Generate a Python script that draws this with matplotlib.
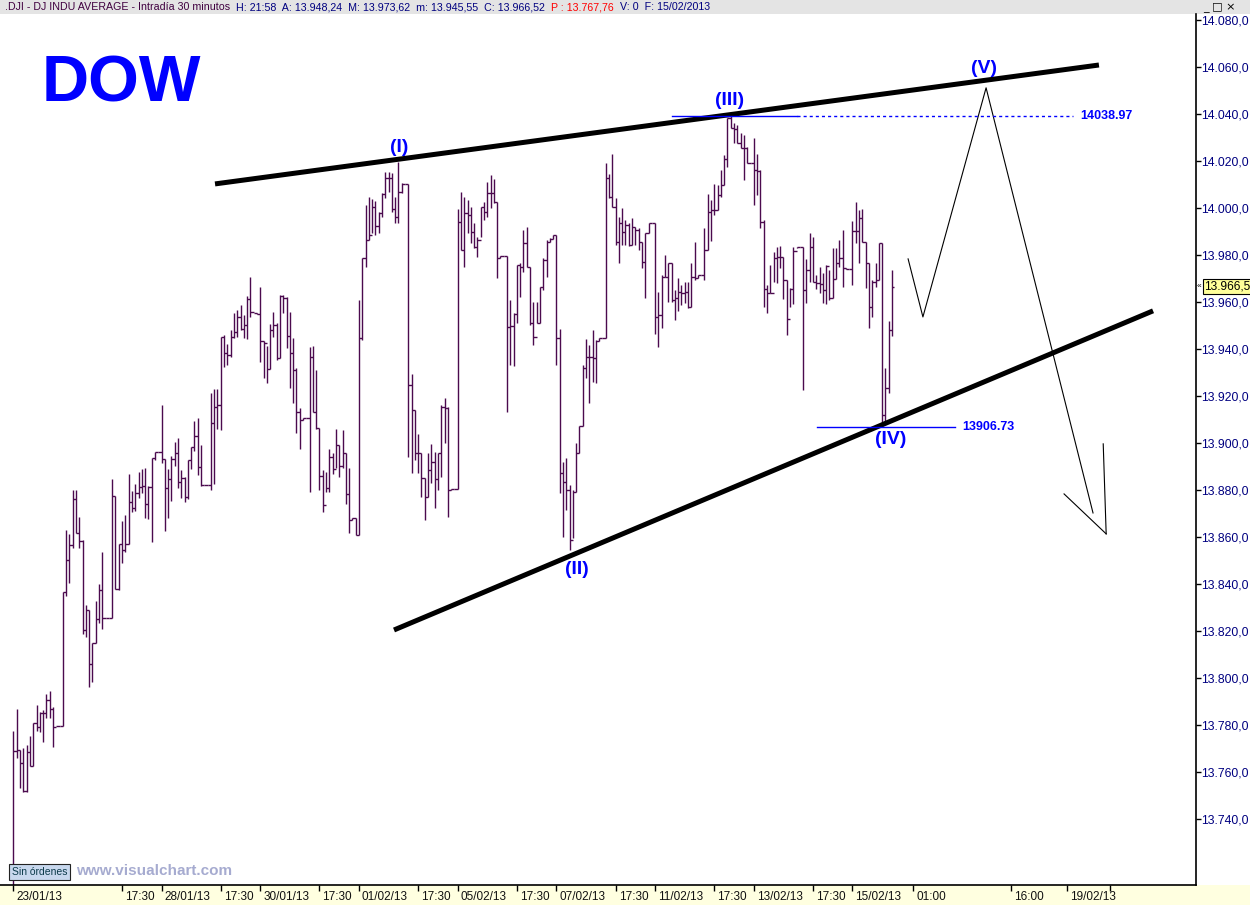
import numpy as np
import matplotlib
matplotlib.use('Agg')
from matplotlib import pyplot as plt
from matplotlib.patches import Rectangle
from matplotlib.transforms import blended_transform_factory, ScaledTranslation

plt.rcParams['font.family'] = ['Liberation Sans', 'DejaVu Sans']

# 30 minute bars of the DJI, 23/01/13 .. 15/02/13 (15 bars per session, last one 13)
highs = [
    13777.4, 13786.8, 13769.4, 13770.0, 13771.5, 13775.3, 13780.9, 13788.5, 13785.5, 13786.4, 13793.2, 13794.5, 13787.7, 13779.6, 13779.6,
    13836.6, 13863.0, 13861.3, 13880.0, 13880.0, 13868.5, 13858.7, 13831.0, 13829.0, 13815.0, 13832.8, 13840.0, 13853.6, 13825.5, 13825.5,
    13884.7, 13877.5, 13857.0, 13866.8, 13869.4, 13886.8, 13879.6, 13882.6, 13887.7, 13889.0, 13889.4, 13881.7, 13893.6, 13896.2, 13896.2,
    13916.2, 13893.2, 13889.0, 13894.5, 13900.4, 13902.1, 13888.5, 13885.5, 13892.8, 13898.3, 13909.4, 13910.6, 13899.2, 13882.1, 13882.1,
    13921.3, 13923.0, 13923.0, 13945.1, 13946.0, 13942.1, 13948.1, 13955.3, 13956.6, 13958.7, 13954.5, 13962.6, 13970.6, 13955.3, 13955.3,
    13966.4, 13943.4, 13941.3, 13950.6, 13955.8, 13951.1, 13963.0, 13963.0, 13962.1, 13955.8, 13944.7, 13931.9, 13914.9, 13910.6, 13910.6,
    13940.9, 13941.3, 13931.1, 13906.4, 13888.5, 13887.7, 13897.5, 13895.8, 13906.0, 13899.2, 13905.5, 13895.8, 13889.4, 13868.1, 13868.1,
    13960.8, 13978.7, 14001.3, 14004.7, 14003.8, 14003.0, 13998.3, 14006.4, 14015.3, 14015.3, 14014.9, 14004.7, 14019.6, 14010.6, 14010.2,
    14010.2, 13929.4, 13914.0, 13903.8, 13895.8, 13885.1, 13895.8, 13899.6, 13896.2, 13895.8, 13916.2, 13919.2, 13915.3, 13880.4, 13880.4,
    13999.6, 14006.8, 14004.7, 14003.4, 14000.4, 13993.6, 13987.7, 14000.4, 14002.5, 14011.1, 14014.0, 14012.3, 14002.5, 13979.6, 13979.6,
    13979.6, 13960.8, 13955.3, 13975.7, 13976.6, 13990.6, 13991.9, 13974.9, 13960.0, 13960.0, 13966.4, 13978.7, 13986.4, 13987.2, 13988.5,
    13988.5, 13948.5, 13891.9, 13893.6, 13882.1, 13880.0, 13900.0, 13907.2, 13933.2, 13944.3, 13941.7, 13948.1, 13943.8, 13944.7, 13944.7,
    14019.1, 14014.5, 14023.0, 14004.2, 13996.2, 14000.0, 13994.9, 13993.6, 13995.7, 13991.9, 13991.5, 13985.5, 13989.4, 13993.6, 13993.6,
    13993.6, 13964.3, 13971.5, 13980.0, 13976.6, 13976.6, 13965.1, 13970.2, 13967.2, 13968.5, 13968.5, 13976.6, 13985.5, 13971.5, 13971.5,
    13991.5, 14006.0, 14003.4, 14010.2, 14009.8, 14016.2, 14022.5, 14038.3, 14038.97, 14036.2, 14035.3, 14031.9, 14031.1, 14026.0, 14019.1,
    14029.8, 14023.0, 14016.2, 13994.9, 13967.2, 13975.7, 13981.3, 13983.4, 13983.8, 13979.1, 13969.4, 13966.0, 13983.4, 13983.4, 13983.4,
    13983.4, 13978.3, 13989.4, 13987.7, 13971.5, 13974.9, 13972.3, 13975.7, 13973.6, 13983.0, 13983.0, 13986.4, 13990.6, 13974.5, 13974.0,
    13994.5, 14002.5, 13999.1, 13999.6, 13985.5, 13976.6, 13969.4, 13976.6, 13985.1, 13985.1, 13932.0, 13951.9, 13973.62,
]
lows = [
    13712.0, 13766.0, 13753.0, 13751.5, 13751.5, 13762.6, 13762.6, 13777.5, 13777.0, 13772.8, 13783.0, 13783.0, 13770.7, 13779.6, 13779.6,
    13779.6, 13835.0, 13840.5, 13855.3, 13861.7, 13855.3, 13818.7, 13817.5, 13796.0, 13798.3, 13815.0, 13823.4, 13821.0, 13825.5, 13825.5,
    13825.5, 13837.9, 13837.5, 13849.0, 13853.6, 13857.0, 13870.6, 13871.0, 13876.6, 13878.7, 13868.1, 13867.7, 13857.9, 13892.8, 13896.2,
    13891.5, 13862.6, 13868.1, 13875.3, 13890.2, 13880.9, 13876.6, 13874.9, 13876.2, 13889.0, 13896.6, 13886.4, 13881.7, 13882.1, 13882.1,
    13880.0, 13882.6, 13906.0, 13905.5, 13932.3, 13933.2, 13936.6, 13944.7, 13945.1, 13948.1, 13944.7, 13944.3, 13953.6, 13955.3, 13954.9,
    13934.5, 13927.7, 13925.5, 13931.5, 13945.1, 13935.3, 13936.2, 13955.3, 13940.4, 13923.4, 13917.0, 13904.3, 13897.5, 13909.8, 13910.6,
    13879.2, 13913.2, 13906.0, 13880.0, 13870.6, 13879.2, 13879.2, 13886.8, 13889.4, 13885.5, 13889.4, 13874.0, 13861.7, 13867.2, 13860.9,
    13860.9, 13943.8, 13974.9, 13986.4, 13989.4, 13988.5, 13989.4, 13996.2, 14004.2, 14006.8, 13998.3, 13993.6, 13993.6, 14006.4, 14010.2,
    13894.0, 13887.2, 13892.8, 13887.2, 13877.0, 13867.2, 13877.0, 13883.0, 13872.3, 13880.0, 13885.5, 13900.0, 13868.5, 13880.0, 13880.4,
    13880.4, 13982.1, 13974.9, 13989.4, 13985.1, 13983.0, 13979.1, 13987.7, 13994.9, 13996.2, 14000.0, 14002.1, 13970.2, 13978.7, 13979.6,
    13913.2, 13933.2, 13932.8, 13951.1, 13962.1, 13972.8, 13974.9, 13950.2, 13941.7, 13951.1, 13951.1, 13965.1, 13970.6, 13985.5, 13986.8,
    13933.2, 13878.7, 13860.0, 13871.5, 13854.5, 13859.6, 13879.2, 13895.8, 13907.2, 13927.7, 13917.0, 13926.0, 13925.5, 13943.4, 13944.7,
    13944.7, 14004.2, 14000.4, 13984.3, 13976.6, 13984.3, 13984.3, 13983.8, 13984.3, 13984.3, 13982.1, 13974.5, 13961.7, 13989.4, 13993.6,
    13946.4, 13940.9, 13949.0, 13970.6, 13960.0, 13960.0, 13952.3, 13956.2, 13958.7, 13959.6, 13957.4, 13957.9, 13969.4, 13970.2, 13971.5,
    13969.4, 13982.1, 13986.0, 13997.0, 13999.1, 14004.7, 14009.8, 14017.4, 14034.0, 14027.7, 14027.7, 14025.5, 14011.9, 14019.1, 14019.1,
    14001.3, 14005.5, 13991.5, 13957.9, 13955.3, 13963.8, 13968.5, 13968.1, 13974.5, 13961.3, 13946.0, 13957.9, 13959.2, 13983.0, 13983.4,
    13922.6, 13959.6, 13968.5, 13968.5, 13965.5, 13963.8, 13959.6, 13959.2, 13960.8, 13961.7, 13969.8, 13974.9, 13966.4, 13974.0, 13974.0,
    13967.2, 13985.1, 13976.6, 13985.5, 13966.0, 13949.0, 13953.6, 13966.4, 13969.4, 13906.73, 13908.0, 13921.3, 13945.55,
]
closes = [
    13769.0, 13769.4, 13764.0, 13752.0, 13768.5, 13762.6, 13780.9, 13779.0, 13785.0, 13785.0, 13790.6, 13786.8, 13779.0, 13779.6, 13779.6,
    13836.6, 13850.0, 13856.6, 13876.0, 13861.7, 13858.3, 13820.4, 13829.0, 13806.0, 13815.0, 13825.0, 13837.5, 13825.5, 13825.5, 13825.5,
    13877.5, 13837.9, 13857.0, 13854.5, 13857.0, 13874.9, 13872.3, 13878.7, 13881.3, 13881.7, 13874.0, 13881.3, 13893.6, 13896.2, 13896.2,
    13893.2, 13880.9, 13884.7, 13893.2, 13895.8, 13883.4, 13885.1, 13877.0, 13892.8, 13898.3, 13903.0, 13889.8, 13882.1, 13882.1, 13882.1,
    13908.5, 13915.3, 13916.2, 13945.1, 13938.3, 13937.4, 13945.1, 13947.2, 13953.6, 13948.5, 13950.2, 13961.3, 13955.8, 13955.3, 13954.9,
    13943.4, 13942.6, 13931.5, 13948.1, 13950.2, 13936.2, 13962.6, 13961.7, 13945.5, 13938.3, 13931.1, 13913.2, 13909.8, 13910.6, 13910.6,
    13936.6, 13913.2, 13906.4, 13886.0, 13873.6, 13880.9, 13894.1, 13889.0, 13899.2, 13890.2, 13895.8, 13878.3, 13867.2, 13868.1, 13860.9,
    13944.7, 13978.7, 13986.4, 13988.5, 14000.4, 13992.3, 13997.9, 14006.0, 14012.8, 14012.8, 13999.6, 13996.2, 14006.8, 14010.2, 14010.2,
    13924.7, 13914.0, 13895.8, 13895.8, 13885.1, 13877.0, 13888.5, 13891.9, 13884.7, 13895.8, 13915.3, 13914.9, 13880.0, 13880.4, 13880.4,
    13994.0, 13982.1, 13997.9, 13997.0, 13989.8, 13983.4, 13986.4, 14000.4, 13998.3, 14006.4, 14006.4, 14002.5, 13978.7, 13979.6, 13979.6,
    13949.4, 13949.8, 13954.9, 13975.7, 13974.9, 13985.1, 13974.9, 13951.1, 13945.1, 13951.1, 13966.4, 13977.9, 13985.5, 13986.8, 13988.5,
    13944.7, 13887.2, 13883.4, 13880.0, 13858.7, 13879.2, 13895.8, 13907.2, 13931.9, 13936.6, 13936.6, 13936.2, 13943.4, 13944.7, 13944.7,
    14012.8, 14004.7, 14000.4, 13985.5, 13993.6, 13989.8, 13992.8, 13984.3, 13991.9, 13990.6, 13985.5, 13977.0, 13989.4, 13993.6, 13993.6,
    13953.6, 13954.5, 13970.6, 13970.6, 13976.6, 13960.8, 13961.7, 13964.3, 13963.8, 13964.3, 13957.9, 13970.6, 13970.2, 13971.5, 13971.5,
    13982.1, 13998.3, 13999.1, 13999.1, 14005.5, 14009.8, 14020.8, 14038.3, 14034.0, 14033.6, 14027.7, 14025.5, 14025.5, 14019.1, 14019.1,
    14016.2, 14015.7, 13994.0, 13965.5, 13963.8, 13963.8, 13978.7, 13979.1, 13979.1, 13969.4, 13952.8, 13965.5, 13981.7, 13983.4, 13983.4,
    13965.1, 13973.6, 13983.4, 13968.5, 13968.1, 13967.7, 13965.1, 13975.3, 13961.7, 13969.8, 13976.6, 13978.7, 13974.5, 13974.0, 13974.0,
    13990.2, 13990.2, 13995.7, 13985.5, 13976.6, 13957.9, 13968.5, 13969.4, 13985.1, 13912.0, 13923.4, 13948.24, 13966.52,
]

# time axis (bar index positions)
day_ticks = [0, 45, 75, 105, 135, 165, 195, 225, 255]
day_labels = ['23/01/13', '28/01/13', '30/01/13', '01/02/13', '05/02/13', '07/02/13', '11/02/13', '13/02/13', '15/02/13']
time_ticks = [33, 63, 93, 123, 153, 183, 213, 243, 273.4, 303.2, 320.2, 333.3]
time_labels = ['17:30', '17:30', '17:30', '17:30', '17:30', '17:30', '17:30', '17:30', '01:00', '16:00', '19/02/13', '']
price_ticks = [13740, 13760, 13780, 13800, 13820, 13840, 13860, 13880, 13900,
               13920, 13940, 13960, 13980, 14000, 14020, 14040, 14060, 14080]

# Elliott wave drawing (bar index, price)
upper_trend = ([61.25, 329.9], [14010.2, 14060.8])
lower_trend = ([115.65, 346.35], [13820.4, 13956.2])
projection = ([271.9, 276.4, 295.6, 328.1], [13978.3, 13953.6, 14051.1, 13870.2])
arrow_head = ([319.3, 332.1, 331.2], [13878.3, 13861.3, 13899.6])
wave_names = ['(I)', '(II)', '(III)', '(IV)', '(V)']
wave_x = [117.2, 171.3, 217.5, 266.7, 295.0]
wave_y = [14025.5, 13846.0, 14045.5, 13901.3, 14059.1]
level_iii = 14038.97
level_iv = 13906.73
last_price = 13966.52


def es_num(v, dec):
    # 14080.0 -> '14.080,0'
    return f'{v:,.{dec}f}'.replace(',', ' ').replace('.', ',').replace(' ', '.')


bar_color = '#4b0a4e'
blue = '#0000ff'

fig = plt.figure(figsize=(12.5, 9.05), dpi=100)
ax = fig.add_axes([0, 20 / 905, 1196 / 1250, 871 / 905])

x = np.arange(len(closes))
ax.vlines(x, lows, highs, color=bar_color, lw=1.0)
ax.hlines(closes[:-1], x[:-1], x[1:], color=bar_color, lw=1.0)
ax.hlines(closes[-1:], x[-1:], x[-1:] + 0.5, color=bar_color, lw=1.0)

# trend lines and projected path
ax.plot(*upper_trend, color='black', lw=3.6, solid_capstyle='butt')
ax.plot(*lower_trend, color='black', lw=3.6, solid_capstyle='butt')
ax.plot(*projection, color='black', lw=0.8)
ax.plot(arrow_head[0][:2], arrow_head[1][:2], color='black', lw=0.8)
ax.plot(arrow_head[0][1:], arrow_head[1][1:], color='black', lw=0.8)

# price levels
ax.plot([200.2, 238.1], [level_iii, level_iii], color=blue, lw=1.0)
ax.plot([238.1, 322.0], [level_iii, level_iii], color=blue, lw=1.0, ls=(0, (2.2, 2.2)))
ax.text(324.2, level_iii, f'{level_iii:.2f}', color=blue, fontsize=9, fontweight='bold', va='center')
ax.plot([244.2, 286.2], [level_iv, level_iv], color=blue, lw=1.0)
ax.text(288.3, level_iv, f'{level_iv:.2f}', color=blue, fontsize=9, fontweight='bold', va='center')

for name, wx, wy in zip(wave_names, wave_x, wave_y):
    ax.text(wx, wy, name, color=blue, fontsize=14, fontweight='bold', ha='center', va='center')

ax.set_xlim(-4.1, 359.4)
ax.set_ylim(13711.9, 14082.5)

for s in ['top', 'left']:
    ax.spines[s].set_visible(False)
for s in ['bottom', 'right']:
    ax.spines[s].set_linewidth(1.2)

# x axis: ticks below, labels to the right of each tick
ax.set_xticks(day_ticks + time_ticks)
ax.tick_params(axis='x', length=4.5, width=1, direction='out', labelbottom=False)
trans = blended_transform_factory(ax.transData, ax.transAxes) + ScaledTranslation(3 / 100, -6 / 100, fig.dpi_scale_trans)
for pos, lab in zip(day_ticks + time_ticks, day_labels + time_labels):
    ax.text(pos, 0, lab, transform=trans, ha='left', va='top', fontsize=8.5, color='#111111', clip_on=False)

# y axis on the right
ax.yaxis.tick_right()
ax.set_yticks(price_ticks)
ax.set_yticklabels([es_num(v, 1) for v in price_ticks])
ax.tick_params(axis='y', length=3.5, width=1, direction='out', pad=0.5, labelsize=8.8, labelcolor='#000080')

# last price tag
ax.annotate(es_num(last_price, 1), xy=(1, last_price), xycoords=('axes fraction', 'data'),
            xytext=(8, 0), textcoords='offset pixels', va='center', ha='left', fontsize=8.6,
            bbox=dict(boxstyle='square,pad=0.1', fc='#ffff99', ec='black', lw=0.8), annotation_clip=False)
ax.annotate('«', xy=(1, last_price), xycoords=('axes fraction', 'data'),
            xytext=(1, 0), textcoords='offset pixels', va='center', ha='left', fontsize=6, annotation_clip=False)

# window frame bits
fig.patches.append(Rectangle((0, 0), 1, 20 / 905, transform=fig.transFigure, fc='#ffffe0', ec='none', zorder=-1))
fig.patches.append(Rectangle((0, 891 / 905), 1, 14 / 905, transform=fig.transFigure, fc='#e4e4e4', ec='none', zorder=-1))

t1 = fig.text(5 / 1250, 898 / 905, '.DJI - DJ INDU AVERAGE - Intradía 30 minutos', color='#400040', fontsize=7.7, va='center')
t2 = fig.text(0, 0, '  H: 21:58  A: 13.948,24  M: 13.973,62  m: 13.945,55  C: 13.966,52',
              color='#000080', fontsize=7.7, va='center')
t3 = fig.text(0, 0, '  P : 13.767,76', color='#ff0000', fontsize=7.7, va='center')
t4 = fig.text(0, 0, '  V: 0  F: 15/02/2013', color='#000080', fontsize=7.7, va='center')
fig.canvas.draw()
for prev, cur in [(t1, t2), (t2, t3), (t3, t4)]:
    bb = prev.get_window_extent()
    cur.set_position((bb.x1 / fig.bbox.width, 898 / 905))
fig.text(1203 / 1250, 898 / 905, '_ □ ×', fontsize=8, va='center', family=['DejaVu Sans'])

fig.text(42 / 1250, (905 - 102) / 905, 'DOW', color=blue, fontsize=47, fontweight='bold', va='baseline')

fig.text(12 / 1250, (905 - 872) / 905, 'Sin órdenes', fontsize=7.5, color='#0b3a4a', va='center',
         bbox=dict(boxstyle='square,pad=0.25', fc='#c8d8ee', ec='#222222', lw=0.8))
fig.text(76 / 1250, (905 - 871) / 905, 'www.visualchart.com', fontsize=11, fontweight='bold', color='#a6abd0', va='center')

fig.savefig('out.png', dpi=100)
